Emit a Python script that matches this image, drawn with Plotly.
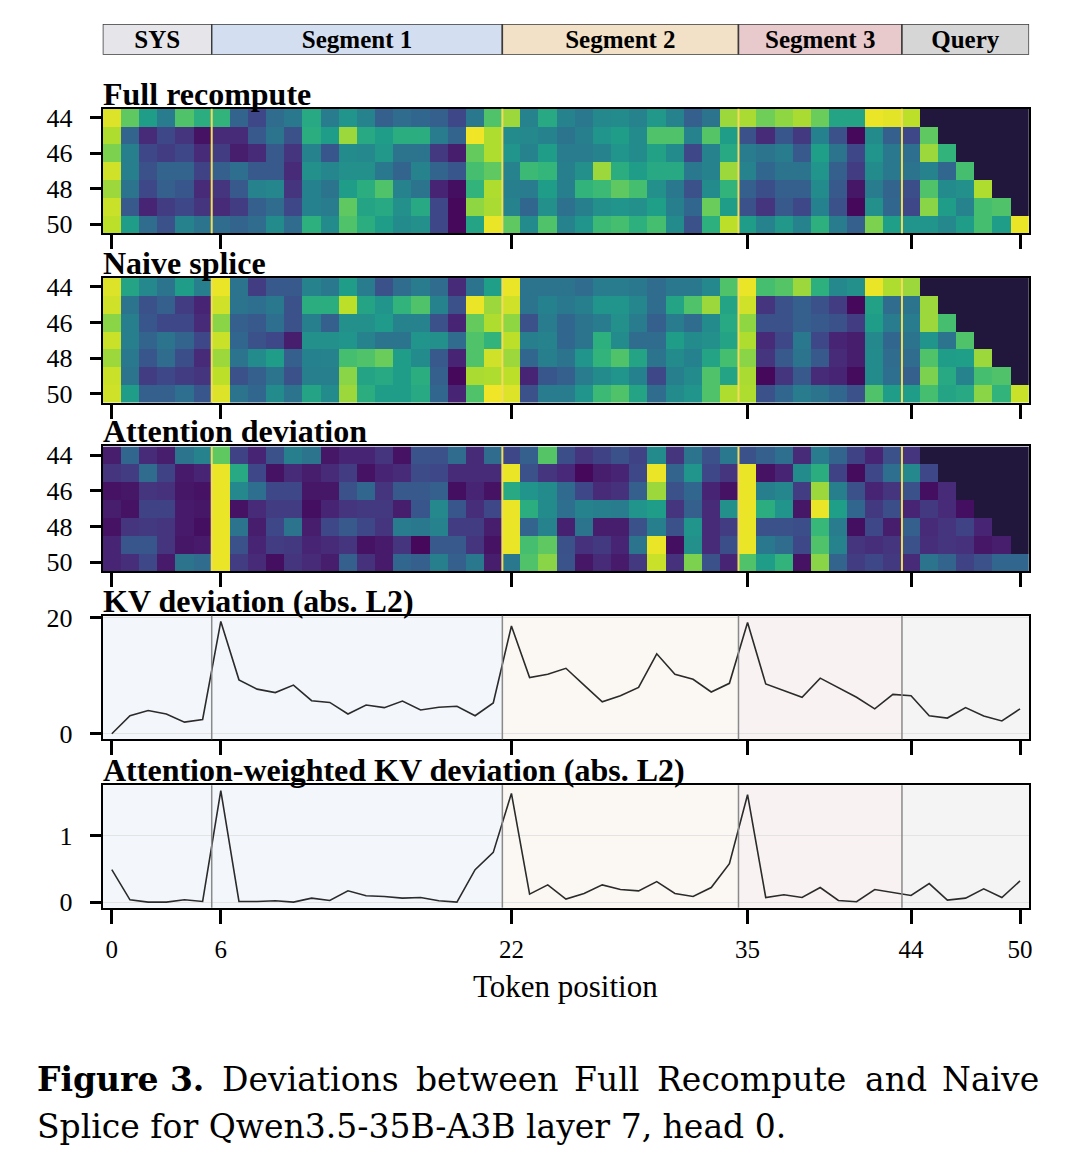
import plotly.graph_objects as go

W, H = 1064, 1156
FONT = "Liberation Serif"

# token positions and the query rows shown in the heatmaps
tokens = list(range(51))
query_rows = [44, 45, 46, 47, 48, 49, 50]
tick_tokens = [0, 6, 22, 35, 44, 50]

seg_names = ["SYS", "Segment 1", "Segment 2", "Segment 3", "Query"]
seg_starts = [0, 6, 22, 35, 44]
seg_ends = [5, 21, 34, 43, 50]
seg_bar_colors = ["#e6e6ea", "#d3dff0", "#f2e1c7", "#e8c9cc", "#d6d6d6"]
seg_bg_colors = ["#f3f6fa", "#f3f6fb", "#fbf8f3", "#f8f2f2", "#f4f4f4"]

# row-normalised attention, None = causally masked
full_recompute = [
    [0.95, 0.75, 0.55, 0.42, 0.72, 0.62, 0.65, 0.32, 0.22, 0.35, 0.40, 0.60, 0.42, 0.52, 0.45, 0.30, 0.35, 0.33, 0.30, 0.22, 0.40, 0.72, 0.85, 0.45, 0.60, 0.45,
     0.40, 0.47, 0.48, 0.45, 0.53, 0.45, 0.30, 0.38, 0.85, 0.87, 0.78, 0.83, 0.87, 0.77, 0.58, 0.58, 0.97, 0.96, 0.90, None, None, None, None, None, None],
    [0.88, 0.32, 0.12, 0.22, 0.15, 0.05, 0.12, 0.12, 0.28, 0.38, 0.25, 0.62, 0.55, 0.85, 0.60, 0.55, 0.62, 0.62, 0.42, 0.32, 0.98, 0.88, 0.48, 0.47, 0.45, 0.38,
     0.43, 0.52, 0.55, 0.48, 0.72, 0.72, 0.45, 0.73, 0.55, 0.25, 0.12, 0.27, 0.17, 0.44, 0.25, 0.02, 0.48, 0.30, 0.22, 0.75, None, None, None, None, None],
    [0.80, 0.43, 0.22, 0.18, 0.22, 0.12, 0.18, 0.08, 0.12, 0.28, 0.15, 0.45, 0.27, 0.48, 0.47, 0.53, 0.38, 0.38, 0.17, 0.08, 0.76, 0.88, 0.52, 0.45, 0.55, 0.42,
     0.42, 0.45, 0.52, 0.48, 0.57, 0.48, 0.22, 0.45, 0.60, 0.42, 0.38, 0.42, 0.28, 0.56, 0.38, 0.22, 0.52, 0.40, 0.36, 0.85, 0.65, None, None, None, None],
    [0.93, 0.43, 0.25, 0.32, 0.32, 0.20, 0.30, 0.36, 0.28, 0.28, 0.12, 0.50, 0.46, 0.50, 0.50, 0.40, 0.32, 0.45, 0.32, 0.27, 0.70, 0.75, 0.45, 0.68, 0.66, 0.43,
     0.50, 0.85, 0.62, 0.55, 0.60, 0.60, 0.40, 0.45, 0.85, 0.45, 0.33, 0.38, 0.38, 0.52, 0.30, 0.18, 0.48, 0.40, 0.38, 0.45, 0.33, 0.70, None, None, None],
    [0.85, 0.38, 0.22, 0.30, 0.27, 0.12, 0.15, 0.28, 0.45, 0.46, 0.15, 0.44, 0.38, 0.55, 0.62, 0.72, 0.45, 0.38, 0.10, 0.04, 0.65, 0.88, 0.43, 0.42, 0.55, 0.43,
     0.65, 0.68, 0.75, 0.70, 0.50, 0.40, 0.25, 0.48, 0.65, 0.30, 0.24, 0.30, 0.30, 0.48, 0.28, 0.06, 0.42, 0.32, 0.24, 0.72, 0.48, 0.50, 0.88, None, None],
    [0.92, 0.28, 0.10, 0.18, 0.22, 0.15, 0.12, 0.18, 0.30, 0.35, 0.22, 0.44, 0.42, 0.75, 0.58, 0.60, 0.50, 0.60, 0.22, 0.02, 0.83, 0.87, 0.45, 0.33, 0.50, 0.37,
     0.43, 0.50, 0.52, 0.50, 0.56, 0.43, 0.33, 0.77, 0.55, 0.25, 0.15, 0.28, 0.22, 0.44, 0.25, 0.02, 0.50, 0.33, 0.22, 0.82, 0.55, 0.45, 0.70, 0.72, None],
    [0.90, 0.55, 0.35, 0.25, 0.45, 0.38, 0.35, 0.32, 0.35, 0.48, 0.35, 0.63, 0.48, 0.72, 0.62, 0.55, 0.48, 0.50, 0.22, 0.02, 0.58, 0.97, 0.75, 0.48, 0.72, 0.45,
     0.52, 0.68, 0.70, 0.63, 0.70, 0.48, 0.25, 0.63, 0.90, 0.55, 0.45, 0.53, 0.45, 0.63, 0.42, 0.30, 0.80, 0.56, 0.52, 0.52, 0.47, 0.55, 0.70, 0.55, 0.97],
]

naive_splice = [
    [0.95, 0.58, 0.47, 0.38, 0.55, 0.43, 0.97, 0.38, 0.18, 0.28, 0.28, 0.45, 0.40, 0.55, 0.42, 0.25, 0.35, 0.42, 0.35, 0.12, 0.38, 0.56, 0.97, 0.38, 0.38, 0.38,
     0.35, 0.42, 0.42, 0.40, 0.35, 0.40, 0.40, 0.47, 0.72, 0.97, 0.70, 0.73, 0.85, 0.63, 0.47, 0.50, 0.97, 0.88, 0.85, None, None, None, None, None, None],
    [0.93, 0.38, 0.25, 0.30, 0.18, 0.10, 0.93, 0.38, 0.36, 0.40, 0.25, 0.62, 0.62, 0.90, 0.58, 0.52, 0.65, 0.72, 0.45, 0.25, 0.97, 0.85, 0.93, 0.38, 0.44, 0.40,
     0.43, 0.52, 0.52, 0.46, 0.35, 0.58, 0.72, 0.85, 0.58, 0.93, 0.15, 0.25, 0.30, 0.25, 0.18, 0.02, 0.57, 0.35, 0.38, 0.85, None, None, None, None, None],
    [0.82, 0.43, 0.27, 0.22, 0.22, 0.12, 0.82, 0.30, 0.28, 0.36, 0.25, 0.43, 0.30, 0.50, 0.50, 0.54, 0.45, 0.45, 0.25, 0.10, 0.76, 0.88, 0.83, 0.25, 0.42, 0.33,
     0.38, 0.42, 0.50, 0.42, 0.30, 0.42, 0.35, 0.48, 0.60, 0.83, 0.25, 0.25, 0.30, 0.28, 0.25, 0.18, 0.55, 0.42, 0.42, 0.85, 0.70, None, None, None, None],
    [0.92, 0.43, 0.32, 0.38, 0.32, 0.22, 0.92, 0.33, 0.25, 0.22, 0.08, 0.50, 0.50, 0.52, 0.45, 0.38, 0.38, 0.52, 0.50, 0.35, 0.72, 0.65, 0.90, 0.43, 0.45, 0.33,
     0.38, 0.63, 0.48, 0.35, 0.35, 0.55, 0.48, 0.50, 0.58, 0.88, 0.12, 0.22, 0.40, 0.22, 0.10, 0.08, 0.47, 0.33, 0.38, 0.52, 0.38, 0.72, None, None, None],
    [0.85, 0.40, 0.27, 0.35, 0.24, 0.12, 0.85, 0.38, 0.48, 0.55, 0.30, 0.44, 0.45, 0.70, 0.72, 0.77, 0.55, 0.48, 0.28, 0.10, 0.72, 0.93, 0.85, 0.33, 0.43, 0.38,
     0.52, 0.65, 0.72, 0.58, 0.38, 0.48, 0.44, 0.58, 0.70, 0.82, 0.15, 0.28, 0.38, 0.28, 0.12, 0.08, 0.48, 0.35, 0.35, 0.72, 0.55, 0.56, 0.85, None, None],
    [0.92, 0.38, 0.18, 0.22, 0.18, 0.15, 0.90, 0.25, 0.30, 0.38, 0.25, 0.43, 0.43, 0.82, 0.58, 0.60, 0.55, 0.62, 0.30, 0.02, 0.87, 0.88, 0.90, 0.10, 0.27, 0.30,
     0.42, 0.48, 0.52, 0.44, 0.22, 0.43, 0.48, 0.72, 0.58, 0.87, 0.02, 0.15, 0.28, 0.12, 0.10, 0.03, 0.48, 0.36, 0.30, 0.80, 0.60, 0.45, 0.70, 0.72, None],
    [0.93, 0.55, 0.30, 0.30, 0.36, 0.27, 0.95, 0.38, 0.33, 0.48, 0.38, 0.58, 0.48, 0.85, 0.62, 0.55, 0.55, 0.60, 0.33, 0.10, 0.72, 0.98, 0.95, 0.25, 0.42, 0.42,
     0.52, 0.68, 0.72, 0.58, 0.35, 0.48, 0.52, 0.72, 0.88, 0.88, 0.25, 0.33, 0.42, 0.38, 0.33, 0.25, 0.72, 0.55, 0.55, 0.70, 0.58, 0.60, 0.82, 0.65, 0.92],
]

attn_deviation = [
    [0.08, 0.33, 0.12, 0.08, 0.38, 0.45, 0.75, 0.20, 0.10, 0.25, 0.43, 0.38, 0.06, 0.10, 0.10, 0.15, 0.05, 0.26, 0.25, 0.35, 0.12, 0.35, 0.22, 0.30, 0.73, 0.24,
     0.15, 0.20, 0.25, 0.20, 0.48, 0.15, 0.38, 0.25, 0.40, 0.25, 0.30, 0.36, 0.12, 0.42, 0.32, 0.20, 0.10, 0.25, 0.15, None, None, None, None, None, None],
    [0.15, 0.18, 0.35, 0.20, 0.07, 0.10, 0.97, 0.60, 0.22, 0.05, 0.12, 0.08, 0.12, 0.18, 0.05, 0.10, 0.12, 0.23, 0.22, 0.12, 0.12, 0.12, 0.97, 0.25, 0.15, 0.11,
     0.02, 0.08, 0.10, 0.22, 0.97, 0.32, 0.52, 0.22, 0.15, 0.97, 0.05, 0.10, 0.48, 0.62, 0.20, 0.03, 0.22, 0.36, 0.47, 0.22, None, None, None, None, None],
    [0.05, 0.06, 0.15, 0.14, 0.06, 0.05, 0.97, 0.47, 0.36, 0.22, 0.22, 0.06, 0.06, 0.25, 0.33, 0.15, 0.28, 0.28, 0.30, 0.04, 0.10, 0.05, 0.60, 0.52, 0.48, 0.34,
     0.22, 0.12, 0.14, 0.30, 0.85, 0.25, 0.33, 0.10, 0.05, 0.97, 0.43, 0.46, 0.18, 0.85, 0.43, 0.25, 0.10, 0.15, 0.25, 0.04, 0.12, None, None, None, None],
    [0.08, 0.05, 0.20, 0.20, 0.07, 0.06, 0.97, 0.05, 0.12, 0.18, 0.18, 0.04, 0.10, 0.15, 0.17, 0.17, 0.08, 0.27, 0.47, 0.27, 0.13, 0.22, 0.97, 0.62, 0.48, 0.36,
     0.45, 0.43, 0.42, 0.52, 0.55, 0.15, 0.30, 0.12, 0.50, 0.97, 0.62, 0.52, 0.06, 0.97, 0.56, 0.33, 0.17, 0.24, 0.10, 0.17, 0.12, 0.04, None, None, None],
    [0.05, 0.15, 0.17, 0.15, 0.07, 0.04, 0.97, 0.38, 0.08, 0.22, 0.38, 0.08, 0.22, 0.28, 0.22, 0.15, 0.42, 0.40, 0.45, 0.18, 0.18, 0.08, 0.97, 0.32, 0.45, 0.09,
     0.38, 0.08, 0.08, 0.25, 0.43, 0.25, 0.52, 0.12, 0.18, 0.97, 0.25, 0.25, 0.24, 0.67, 0.42, 0.04, 0.22, 0.08, 0.30, 0.12, 0.15, 0.20, 0.10, None, None],
    [0.10, 0.27, 0.27, 0.15, 0.06, 0.07, 0.97, 0.25, 0.10, 0.18, 0.17, 0.10, 0.12, 0.15, 0.05, 0.07, 0.15, 0.02, 0.28, 0.28, 0.15, 0.05, 0.97, 0.70, 0.75, 0.25,
     0.14, 0.17, 0.10, 0.38, 0.97, 0.04, 0.50, 0.12, 0.24, 0.97, 0.40, 0.35, 0.22, 0.72, 0.45, 0.15, 0.13, 0.15, 0.25, 0.13, 0.15, 0.14, 0.06, 0.08, None],
    [0.10, 0.13, 0.22, 0.07, 0.38, 0.35, 0.97, 0.18, 0.12, 0.04, 0.15, 0.12, 0.08, 0.30, 0.14, 0.07, 0.33, 0.30, 0.43, 0.30, 0.40, 0.08, 0.40, 0.72, 0.82, 0.26,
     0.06, 0.12, 0.07, 0.17, 0.92, 0.14, 0.80, 0.25, 0.10, 0.72, 0.55, 0.65, 0.05, 0.82, 0.32, 0.18, 0.22, 0.17, 0.12, 0.38, 0.32, 0.20, 0.25, 0.33, 0.33],
]

kv_dev = [0.0, 3.1, 4.0, 3.4, 2.0, 2.45, 19.4, 9.3, 7.7, 7.1,
          8.4, 5.7, 5.4, 3.4, 4.96, 4.5, 5.65, 4.1, 4.56, 4.73,
          3.1, 5.3, 18.6, 9.7, 10.26, 11.3, 8.4, 5.5, 6.55, 8.0,
          13.8, 10.26, 9.4, 7.2, 8.7, 19.2, 8.6, 7.4, 6.3, 9.6,
          7.9, 6.3, 4.3, 6.8, 6.55, 3.1, 2.7, 4.5, 3.05, 2.2, 4.3]

attn_kv_dev = [0.49, 0.035, 0.0, 0.0, 0.035, 0.01, 1.68, 0.01, 0.01, 0.02,
               0.0, 0.06, 0.025, 0.17, 0.095, 0.085, 0.06, 0.07, 0.02, 0.0,
               0.49, 0.75, 1.64, 0.12, 0.26, 0.045, 0.13, 0.26, 0.19, 0.17,
               0.31, 0.13, 0.085, 0.22, 0.58, 1.62, 0.07, 0.11, 0.07, 0.22,
               0.025, 0.005, 0.19, 0.15, 0.10, 0.28, 0.03, 0.06, 0.20, 0.07, 0.32]

panel_titles = ["Full recompute", "Naive splice", "Attention deviation",
                "KV deviation (abs. L2)", "Attention-weighted KV deviation (abs. L2)"]

# caption line 1 is justified, so its words are placed one by one (left edges)
caption_line1 = [("<b>Figure 3.</b>", 38), ("Deviations", 224), ("between", 418),
                 ("Full", 577), ("Recompute", 660), ("and", 868), ("Naive", 946)]
caption_line2 = "Splice for Qwen3.5-35B-A3B layer 7, head 0."

MASK_COLOR = "#21163b"
X0, X1 = 103, 1032
# (top, bottom) in window pixels for: segment bar, 3 heatmaps, 2 line panels
panels_px = [(22, 53), (107, 232), (277, 402), (446, 571), (616, 740), (786, 909)]


# window pixel -> paper fraction (the page is drawn with an offset and a
# slight vertical squeeze, measured from earlier renders)
def px(x):
    return (x - 8) / W


def py(y):
    return 1 - ((y - 18) / 0.9855) / H


def ydom(top, bottom):
    return [py(bottom), py(top)]


def pad_range(vals):
    lo, hi = min(vals), max(vals)
    m = 0.05 * (hi - lo)
    return [lo - m, hi + m]


fig = go.Figure()

# segment bar on top
seg_font = dict(family=FONT, size=25, color="black")
fig.add_trace(go.Bar(
    y=[0] * len(seg_names),
    base=[s - 0.5 for s in seg_starts],
    x=[e - s + 1 for s, e in zip(seg_starts, seg_ends)],
    orientation="h", width=1,
    marker=dict(color=seg_bar_colors, line=dict(color="#3a3a3a", width=1.5)),
    text=[f"<b>{n}</b>" for n in seg_names], textposition="inside",
    insidetextanchor="middle", constraintext="none",
    textfont=seg_font, insidetextfont=seg_font,
    hoverinfo="skip", xaxis="x", yaxis="y",
))

heatmaps = [full_recompute, naive_splice, attn_deviation]
for i, z in enumerate(heatmaps):
    ax = str(i + 2)
    fig.add_trace(go.Heatmap(
        z=z, x=tokens, y=query_rows, colorscale="Viridis", zmin=0, zmax=1,
        showscale=False, xaxis="x" + ax, yaxis="y" + ax,
    ))
    mask = [[1 if v is None else None for v in row] for row in z]
    fig.add_trace(go.Heatmap(
        z=mask, x=tokens, y=query_rows, colorscale=[[0, MASK_COLOR], [1, MASK_COLOR]],
        showscale=False, xaxis="x" + ax, yaxis="y" + ax,
    ))

for ax, vals in (("5", kv_dev), ("6", attn_kv_dev)):
    fig.add_trace(go.Scatter(
        x=tokens, y=vals, mode="lines", line=dict(color="#2b2b2b", width=1.6),
        xaxis="x" + ax, yaxis="y" + ax, showlegend=False,
    ))

shapes = []
for k in range(2, 7):
    ax = str(k)
    if k >= 5:
        for s, e, c in zip(seg_starts, seg_ends, seg_bg_colors):
            shapes.append(dict(type="rect", xref="x" + ax, yref="y" + ax + " domain",
                               x0=s - 0.5, x1=e + 0.5, y0=0, y1=1, fillcolor=c,
                               line=dict(width=0), layer="below"))
    for s in seg_starts[1:]:
        shapes.append(dict(type="line", xref="x" + ax, yref="y" + ax + " domain",
                           x0=s - 0.5, x1=s - 0.5, y0=0, y1=1,
                           line=dict(color="#f2dc5d" if k < 5 else "#8a8a8a",
                                     width=2 if k < 5 else 1.5)))

annotations = []
for k, t in enumerate(panel_titles):
    top = panels_px[k + 1][0]
    annotations.append(dict(text=f"<b>{t}</b>", xref="paper", yref="paper",
                            x=px(X0 - 2), y=py(top), xanchor="left", yanchor="bottom",
                            yshift=-5, showarrow=False,
                            font=dict(family=FONT, size=32, color="black")))
annotations.append(dict(text="Token position", xref="paper", yref="paper",
                        x=px((X0 + X1) / 2), y=py(988), xanchor="center", yanchor="middle",
                        showarrow=False, font=dict(family=FONT, size=31, color="black")))

cap_font = dict(family="DejaVu Serif", size=33, color="black")
for word, x in caption_line1:
    annotations.append(dict(text=word, xref="paper", yref="paper", x=px(x - 3), y=py(1081),
                            xanchor="left", yanchor="middle", showarrow=False, font=cap_font))
annotations.append(dict(text=caption_line2, xref="paper", yref="paper", x=px(35), y=py(1129),
                        xanchor="left", yanchor="middle", showarrow=False, font=cap_font))

layout = dict(
    width=W, height=H, margin=dict(l=0, r=0, t=0, b=0),
    paper_bgcolor="white", plot_bgcolor="white", showlegend=False,
    shapes=shapes, annotations=annotations,
    font=dict(family=FONT, size=22, color="black"),
)

xdom = [px(X0), px(X1)]
layout["xaxis"] = dict(domain=xdom, range=[-0.5, 50.5], visible=False, anchor="y")
layout["yaxis"] = dict(domain=ydom(*panels_px[0]), range=[-0.5, 0.5], visible=False, anchor="x")

y_ranges = {"5": pad_range(kv_dev), "6": pad_range(attn_kv_dev)}
y_ticks = {"5": [0, 20], "6": [0, 1]}
for k in range(2, 7):
    ax = str(k)
    layout["xaxis" + ax] = dict(
        domain=xdom, range=[-0.5, 50.5], anchor="y" + ax,
        tickvals=tick_tokens, ticks="outside", ticklen=14, tickwidth=2.8, tickcolor="black",
        showticklabels=(k == 6), tickfont=dict(family=FONT, size=25),
        showline=True, mirror=True, linewidth=2, linecolor="black",
        showgrid=False, zeroline=False, ticklabelstandoff=4,
    )
    common_y = dict(
        domain=ydom(*panels_px[k - 1]), anchor="x" + ax, ticks="outside",
        ticklen=11, tickwidth=2.5, tickcolor="black",
        tickfont=dict(family=FONT, size=26),
        showline=True, mirror=True, linewidth=2, linecolor="black",
        zeroline=False, ticklabelstandoff=12,
    )
    if k < 5:
        layout["yaxis" + ax] = dict(common_y, range=[50.5, 43.5],
                                    tickvals=[44, 46, 48, 50], showgrid=False)
    else:
        layout["yaxis" + ax] = dict(common_y, range=y_ranges[ax], tickvals=y_ticks[ax],
                                    showgrid=True, gridcolor="#e3e3e3", gridwidth=1.2)

fig.update_layout(**layout)
fig.write_html("out.html")
